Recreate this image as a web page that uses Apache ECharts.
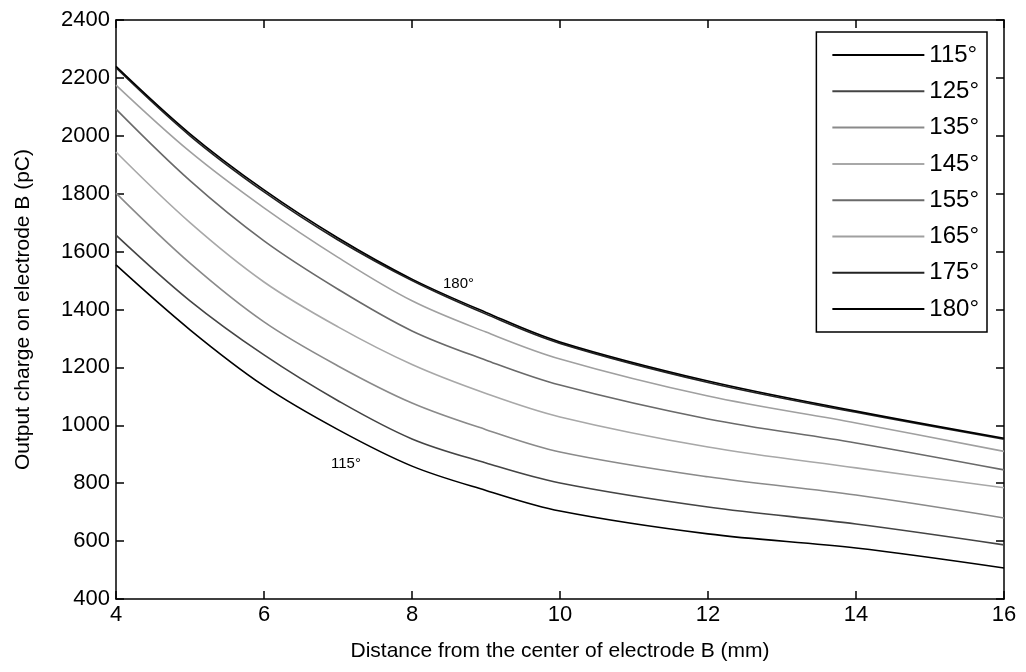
<!DOCTYPE html>
<html>
<head>
<meta charset="utf-8">
<script src="https://cdn.jsdelivr.net/npm/echarts@6/dist/echarts.min.js"></script>
<style>
  html, body { margin: 0; padding: 0; background: #fff; }
  #container { width: 1026px; height: 672px; }
</style>
</head>
<body>
<div id="container"></div>
<script>
// distance from the center of electrode B (mm)
var distance = [4, 5, 6, 7, 8, 9, 10, 12, 14, 16];

// output charge (pC), one list per angle
var angles = ['115°', '125°', '135°', '145°', '155°', '165°', '175°', '180°'];
var q115 = [1554, 1330, 1136, 985, 859, 775, 704, 625, 576, 507];
var q125 = [1657, 1430, 1243, 1085, 953, 870, 801, 718, 659, 587];
var q135 = [1802, 1560, 1357, 1205, 1077, 985, 908, 822, 759, 680];
var q145 = [1944, 1700, 1495, 1340, 1210, 1110, 1029, 925, 853, 784];
var q155 = [2092, 1845, 1637, 1470, 1326, 1225, 1139, 1022, 939, 846];
var q165 = [2175, 1945, 1751, 1580, 1430, 1322, 1229, 1101, 1008, 910];
var q175 = [2235, 2000, 1806, 1640, 1500, 1384, 1283, 1148, 1045, 952];
var q180 = [2240, 2007, 1813, 1647, 1505, 1390, 1288, 1153, 1049, 955];

// gray levels of the scanned lines
var lineColors = ['#000000', '#444444', '#8a8a8a', '#a8a8a8', '#6a6a6a', '#a0a0a0', '#222222', '#000000'];

var FONT = 'Liberation Sans, Arial, sans-serif';

function makeSeries(name, vals, color) {
    var pts = [];
    for (var i = 0; i < distance.length; i++) {
        pts.push([distance[i], vals[i]]);
    }
    return {
        name: name,
        type: 'line',
        data: pts,
        smooth: 0.35,
        symbol: 'none',
        lineStyle: { color: color, width: 1.6 },
        itemStyle: { color: color }
    };
}

var allData = [q115, q125, q135, q145, q155, q165, q175, q180];
var seriesList = [];
for (var k = 0; k < angles.length; k++) {
    seriesList.push(makeSeries(angles[k], allData[k], lineColors[k]));
}

var boxAxis = {
    axisLine: { show: true, lineStyle: { color: '#000', width: 1.5 } },
    axisTick: { show: true, inside: true, length: 8, lineStyle: { color: '#000', width: 1.5 } },
    splitLine: { show: false }
};

var option = {
    backgroundColor: '#fff',
    animation: false,
    grid: { left: 116, right: 22, top: 20, bottom: 73, containLabel: false, outerBoundsMode: 'none' },
    legend: {
        orient: 'vertical',
        right: 39,
        top: 32,
        padding: [11, 8, 11, 16],
        backgroundColor: '#fff',
        borderColor: '#000',
        borderWidth: 1.5,
        icon: 'rect',
        itemWidth: 92,
        itemHeight: 2,
        itemGap: 12.3,
        textStyle: { fontFamily: FONT, fontSize: 24, color: '#000', padding: [0, 0, 0, 0] },
        data: angles
    },
    xAxis: [
        Object.assign({
            type: 'value', position: 'bottom', min: 4, max: 16, interval: 2,
            name: 'Distance from the center of electrode B (mm)',
            nameLocation: 'middle', nameGap: 42,
            nameTextStyle: { fontFamily: FONT, fontSize: 21, color: '#000' },
            axisLabel: { fontFamily: FONT, fontSize: 22, color: '#000', margin: 5 }
        }, boxAxis),
        Object.assign({
            type: 'value', position: 'top', min: 4, max: 16, interval: 2,
            axisLabel: { show: false }
        }, boxAxis)
    ],
    yAxis: [
        Object.assign({
            type: 'value', position: 'left', min: 400, max: 2400, interval: 200,
            name: 'Output charge on electrode B (pC)',
            nameLocation: 'middle', nameGap: 82,
            nameTextStyle: { fontFamily: FONT, fontSize: 21, color: '#000' },
            axisLabel: {
                fontFamily: FONT, fontSize: 22, color: '#000', margin: 6,
                formatter: function (v) { return String(v); }
            }
        }, boxAxis),
        Object.assign({
            type: 'value', position: 'right', min: 400, max: 2400, interval: 200,
            axisLabel: { show: false }
        }, boxAxis)
    ],
    graphic: [
        { type: 'text', left: 443, top: 276, style: { text: '180°', font: '15px ' + FONT, fill: '#000' } },
        { type: 'text', left: 331, top: 456, style: { text: '115°', font: '15px ' + FONT, fill: '#000' } }
    ],
    series: seriesList
};

var myChart = echarts.init(document.getElementById('container'));
myChart.setOption(option);
</script>
</body>
</html>
